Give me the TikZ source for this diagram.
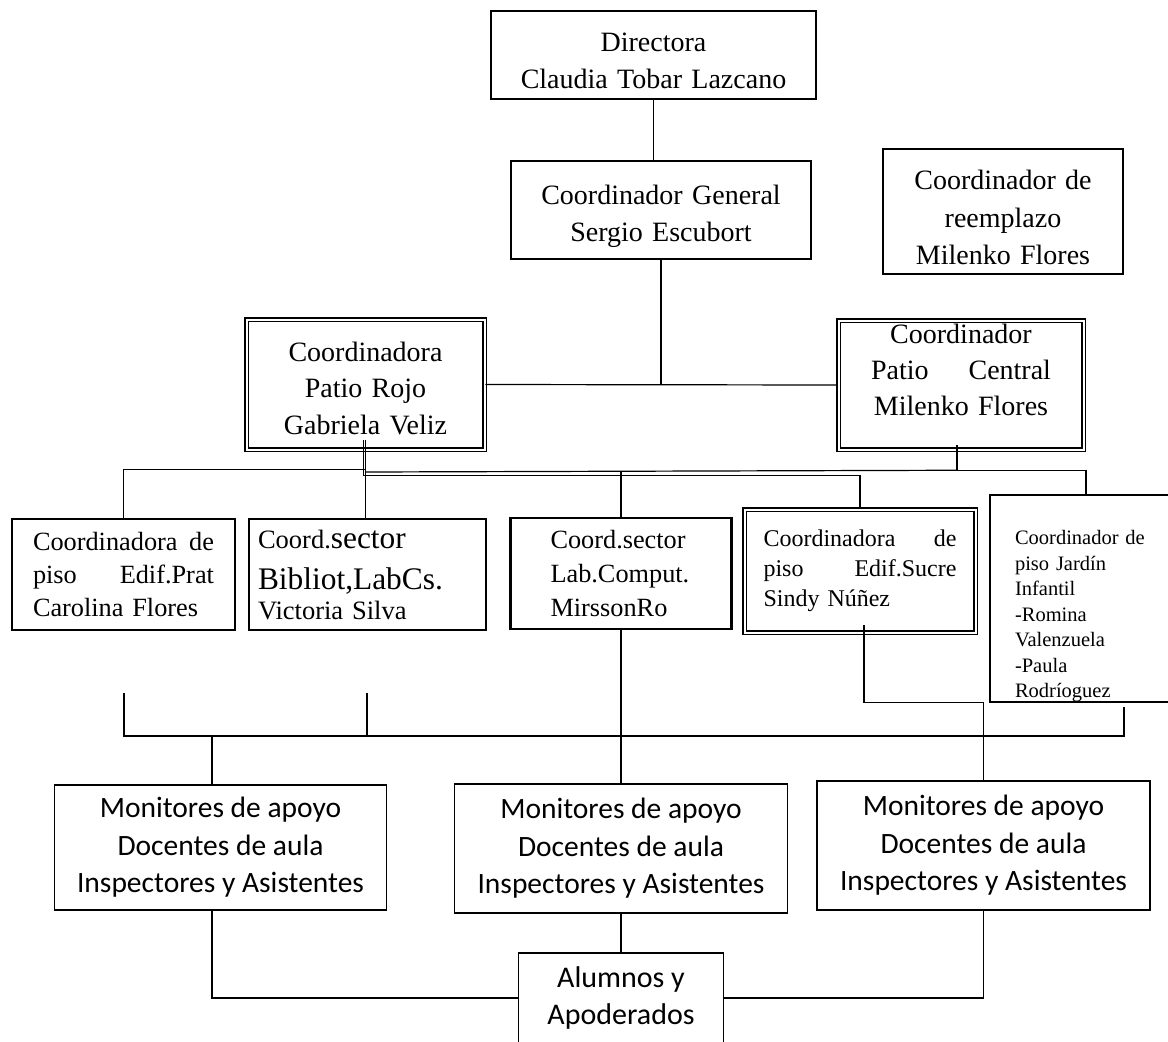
\documentclass[tikz,border=0pt]{standalone}
\usepackage{fontspec}
\setmainfont{Liberation Serif}
\newfontfamily\calibri{Carlito}
\usetikzlibrary{calc}

\begin{document}
\begin{tikzpicture}[x=1pt, y=-1pt, line width=1.2pt,
    cargo/.style={draw, line width=2.6pt, inner sep=0pt, align=center},
    cargodoble/.style={cargo, double, line width=1.5pt, double distance=2pt},
    apoyo/.style={draw, line width=1.7pt, inner sep=0pt, align=center, font=\calibri\fontsize{29.5}{37.5}\selectfont}]
    \useasboundingbox (0,0) rectangle (1168,1042);
    \clip (0,0) rectangle (1168,1042);
    \node[cargo, minimum width=325pt, minimum height=88pt, text width=300pt, font=\fontsize{28}{37}\selectfont] (Dir) at (653.5,55) {\mbox{}\\[-6pt]Directora\\Claudia Tobar Lazcano};
    \node[cargo, minimum width=300pt, minimum height=98pt, text width=290pt, font=\fontsize{28}{37}\selectfont] (CG) at (661,210) {\mbox{}\\[-4pt]Coordinador General\\Sergio Escubort};
    \node[cargo, minimum width=240pt, minimum height=125pt, text width=220pt, font=\fontsize{28}{37.5}\selectfont] (Reemp) at (1003,211.5) {\mbox{}\\[-6pt]Coordinador de\\reemplazo\\Milenko Flores};
    \node[cargodoble, minimum width=238pt, minimum height=130pt, text width=220pt, font=\fontsize{28}{36.5}\selectfont] (Rojo) at (365.5,384.5) {\mbox{}\\[-10pt]Coordinadora\\Patio Rojo\\Gabriela Veliz};
    \node[cargodoble, minimum width=245pt, minimum height=129pt, text width=200pt, font=\fontsize{28}{36}\selectfont] (Central) at (961,385) {Coordinador\\\makebox[180pt]{Patio\hfill Central}\\Milenko Flores\\[-6pt]\mbox{}};
    \node[cargo, minimum width=223pt, minimum height=111pt, text width=181pt, align=left, font=\fontsize{26.3}{33}\selectfont] (Prat) at (123.5,574.5) {\makebox[181pt]{Coordinadora\hfill de}\\\makebox[181pt]{piso\hfill Edif.Prat}\\Carolina Flores};
    \node[cargo, minimum width=237pt, minimum height=111pt, text width=219pt, align=left, font=\fontsize{26.5}{34}\selectfont] (Biblio) at (367.5,574.5) {Coord.{\fontsize{31.4}{34}\selectfont sector}\\[7pt]{\fontsize{31.4}{34}\selectfont Bibliot,LabCs.}\\[-4pt]Victoria Silva};
    \node[cargo, minimum width=221pt, minimum height=111pt, text width=141pt, align=left, font=\fontsize{26.3}{34}\selectfont] (Lab) at (621,573.5) {Coord.sector\\Lab.Comput.\\MirssonRo};
    \node[cargodoble, minimum width=231pt, minimum height=123pt, text width=193pt, align=left, font=\fontsize{24}{30}\selectfont] (Sucre) at (860,571) {\makebox[193pt]{Coordinadora\hfill de}\\\makebox[193pt]{piso\hfill Edif.Sucre}\\Sindy Núñez};
    \node[cargo, minimum width=192pt, minimum height=201pt, text width=142pt, align=left, font=\fontsize{20.5}{25.5}\selectfont] (Jardin) at (1086,598.5) {\mbox{}\\[24pt]Coordinador de\\piso Jardín\\Infantil\\-Romina\\Valenzuela\\-Paula\\Rodríoguez};
    \node[apoyo, minimum width=332pt, minimum height=125pt] (M1) at (220.5,847.5) {Monitores de apoyo\\Docentes de aula\\Inspectores y Asistentes};
    \node[apoyo, minimum width=333pt, minimum height=129pt] (M2) at (621,848.5) {Monitores de apoyo\\Docentes de aula\\Inspectores y Asistentes};
    \node[apoyo, minimum width=333pt, minimum height=129pt] (M3) at (983.5,845.5) {Monitores de apoyo\\Docentes de aula\\Inspectores y Asistentes};
    \node[apoyo, minimum width=205pt, minimum height=90pt, font=\calibri\fontsize{30}{37}\selectfont] (Alum) at (621,998) {Alumnos y\\Apoderados};
    \coordinate (BusTop) at (366,472);
    \coordinate (PratLow) at (124,693);
    \coordinate (BiblioLow) at (367,693);
    \coordinate (JardinLow) at (1124,707);
    \coordinate (BusLow) at (212,736);
    \draw (Dir.south) -- (Dir.south |- CG.north);
    \draw (CG.south) -- (CG.south |- Rojo.east);
    \draw (Rojo.east) -- (Central.west);
    \draw ($(Rojo.south)+(0,-10)$) -- (Rojo.south |- Biblio.north);
    \draw (Rojo.south) ++(0,19) -| (Prat.north);
    \draw ($(Rojo.south)+(-2,-10)$) -- ++(0,35) -| (Sucre.north);
    \draw ($(Central.south)+(-4,-5)$) -- ++(0,25) -| (Jardin.north);
    \draw (BusTop) -- ($(Central.south)+(-4,20)$);
    \draw (Lab.north |- BusTop) -- (Lab.north);
    \draw (Lab.south) -- (Lab.south |- M2.north);
    \draw (PratLow) |- (JardinLow |- BusLow) -- (JardinLow);
    \draw (BiblioLow) -- (BiblioLow |- BusLow);
    \draw (BusLow) -- (BusLow |- M1.north);
    \draw ($(Sucre.south)+(4,-8)$) -- ++(0,77) -| (M3.north);
    \draw ($(M1.south)+(-8.5,0)$) |- (Alum.west);
    \draw (M2.south) -- (Alum.north);
    \draw (M3.south) |- (Alum.east);
\end{tikzpicture}
\end{document}
